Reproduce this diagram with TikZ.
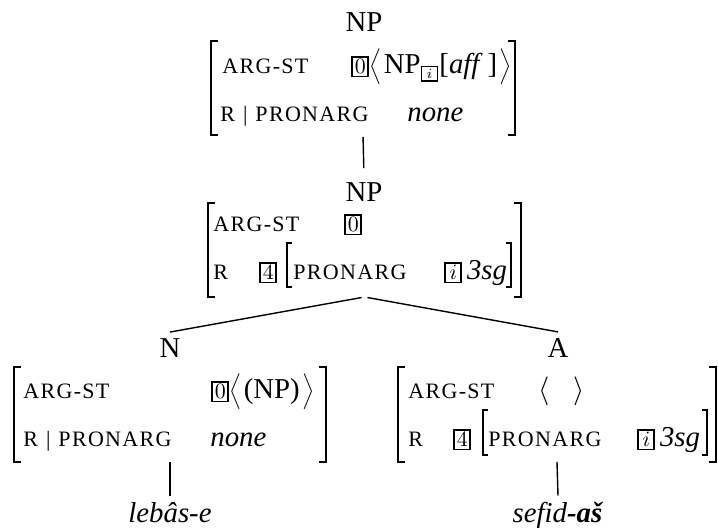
\documentclass[tikz,border=0pt]{standalone}
\usepackage[no-math]{fontspec}
\setmainfont{Liberation Serif}
\newfontfamily\featfont[LetterSpace=6]{Liberation Serif}
\newcommand{\feat}[1]{{\featfont\fontsize{11}{12}\selectfont #1}}
\setlength{\fboxsep}{0.8pt}
\setlength{\fboxrule}{0.9pt}
\newcommand{\tg}[1]{\fbox{\fontsize{10.5}{10.5}\selectfont\makebox[5.5pt]{$#1$}}}
\newcommand{\stg}[1]{\fbox{\fontsize{7}{7}\selectfont\makebox[5.5pt]{$#1$}}}
\newcommand{\lang}{$\left\langle\vrule height 10pt depth 6pt width 0pt\right.$}
\newcommand{\rang}{$\left.\vrule height 10pt depth 6pt width 0pt\right\rangle$}
\newcommand{\brackets}[2][3.5pt]{%
  \draw[brk] ([xshift=#1]#2.north west) -| (#2.south west) -- ++(#1,0);
  \draw[brk] ([xshift=-#1]#2.north east) -| (#2.south east) -- ++(-#1,0);}

\begin{document}
\begin{tikzpicture}[x=0.5pt, y=-0.5pt, font=\fontsize{14.4}{17}\selectfont,
  frame/.style={inner sep=0pt, outer sep=0pt},
  row/.style={anchor=base west, inner sep=0pt},
  cat/.style={anchor=base},
  brk/.style={line width=0.7pt},
  edge/.style={line width=0.7pt}]

\useasboundingbox (0,0) rectangle (718,528);

% mother NP
\node [cat] (np1) at (364,32) {NP};
\node [frame, minimum width=152pt, minimum height=47pt] (avm1) at (363,88) {};
\brackets{avm1}
\node [row] (argst1) at (222,74) {\feat{ARG-ST}};
\node [row] (val1) at (351,74) {\tg{0}\lang NP$_{\stg{i}}$[\textit{aff}\,]\rang};
\node [row] (pron1) at (220,122) {\feat{R\hspace{4pt}|\hspace{4pt}PRONARG}};
\node [row] (none1) at (407,122) {\textit{none}};

% NP
\node [cat] (np2) at (364,202) {NP};
\node [frame, minimum width=156.5pt, minimum height=47pt] (avm2) at (364.5,250) {};
\brackets{avm2}
\node [row] (argst2) at (213,232) {\feat{ARG-ST}};
\node [row] (val2) at (344,232) {\tg{0}};
\node [row] (r2) at (213,280) {\feat{R}};
\node [row] (tag2) at (259,280) {\tg{4}};
\node [frame, minimum width=112pt, minimum height=22pt] (inr2) at (399,265) {};
\brackets[2.5pt]{inr2}
\node [row] (pron2) at (293,280) {\feat{PRONARG}};
\node [row] (idx2) at (444,280) {\tg{i}\,\textit{3sg}};

% N
\node [cat] (n) at (170,358) {N};
\node [frame, minimum width=156pt, minimum height=47.5pt] (avm3) at (170,414.5) {};
\brackets{avm3}
\node [row] (argst3) at (23,399) {\feat{ARG-ST}};
\node [row] (val3) at (211,399) {\tg{0}\lang(NP)\rang};
\node [row] (pron3) at (23,447) {\feat{R\hspace{4pt}|\hspace{4pt}PRONARG}};
\node [row] (none3) at (210,447) {\textit{none}};
\node [cat] (w1) at (170,523) {\textit{lebâs-e}};

% A
\node [cat] (a) at (558,358) {A};
\node [frame, minimum width=159pt, minimum height=47.5pt] (avm4) at (557,414.5) {};
\brackets{avm4}
\node [row] (argst4) at (408,399) {\feat{ARG-ST}};
\node [row] (val4) at (538,399) {$\langle\hspace{12pt}\rangle$};
\node [row] (r4) at (408,447) {\feat{R}};
\node [row] (tag4) at (453,447) {\tg{4}};
\node [frame, minimum width=112pt, minimum height=22.5pt] (inr4) at (595,432.5) {};
\brackets[2.5pt]{inr4}
\node [row] (pron4) at (488,447) {\feat{PRONARG}};
\node [row] (idx4) at (637,447) {\tg{i}\,\textit{3sg}};
\node [cat] (w2) at (558,523) {\textit{sefid\textbf{-aš}}};

\draw [edge, shorten <=1pt, shorten >=4pt] (avm1.south) -- (np2.north);
\draw [edge, shorten <=1.5pt] (avm2.south) -- (n.north);
\draw [edge, shorten <=1.5pt] (avm2.south) -- (a.north);
\draw [edge] (avm3.south) -- (w1.north);
\draw [edge] (avm4.south) -- (w2.north);

\end{tikzpicture}
\end{document}
